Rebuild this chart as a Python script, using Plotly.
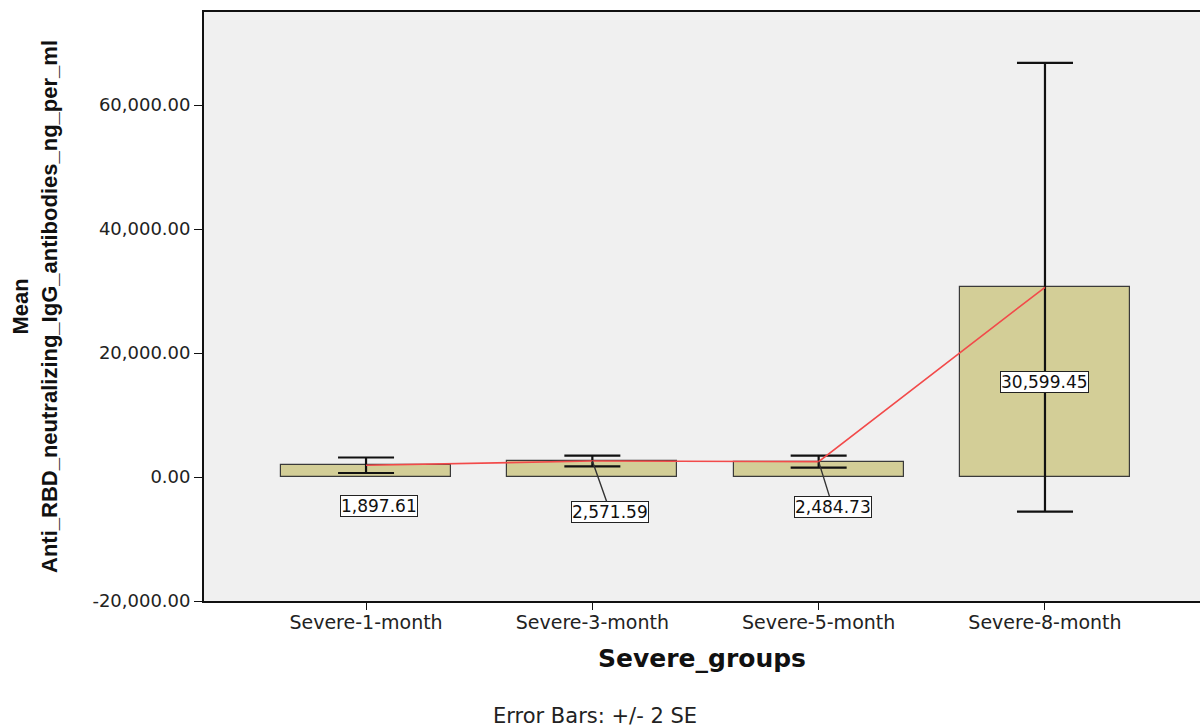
import plotly.graph_objects as go

# Group means with +/- 2 SE error bars
groups = ["Severe-1-month", "Severe-3-month", "Severe-5-month", "Severe-8-month"]
means = [1897.61, 2571.59, 2484.73, 30599.45]
err_2se = [1250, 860, 970, 36200]
mean_labels = ["1,897.61", "2,571.59", "2,484.73", "30,599.45"]

# label offsets (px) from each mean point; None = label centred inside the bar
label_offsets = [(13, 41), (18, 51), (14, 45), None]

y_ticks = [-20000, 0, 20000, 40000, 60000]
y_ticktext = [f"{v:,.2f}" for v in y_ticks]

TXT = "DejaVu Sans"
x_pos = list(range(len(groups)))

fig = go.Figure()

fig.add_trace(go.Bar(
    x=x_pos,
    y=means,
    width=0.75,
    marker=dict(color="#d3ce97", line=dict(color="#3a3a3a", width=1.2)),
    error_y=dict(type="data", array=err_2se, visible=True,
                 color="#111111", thickness=2.2, width=28),
    showlegend=False,
    hoverinfo="skip",
))

fig.add_trace(go.Scatter(
    x=x_pos,
    y=means,
    mode="lines",
    line=dict(color="#f24a4a", width=1.6),
    showlegend=False,
    hoverinfo="skip",
))

for i, (m, lab, off) in enumerate(zip(means, mean_labels, label_offsets)):
    if off is None:
        fig.add_annotation(
            x=i, y=m / 2, text=lab, showarrow=False,
            font=dict(family=TXT, size=17, color="#111111"),
            bgcolor="white", bordercolor="#222222", borderwidth=1, borderpad=0,
        )
    else:
        fig.add_annotation(
            x=i, y=m, text=lab, showarrow=True, arrowhead=0,
            arrowwidth=1.4, arrowcolor="#333333",
            axref="pixel", ayref="pixel", ax=off[0], ay=off[1],
            font=dict(family=TXT, size=17, color="#111111"),
            bgcolor="white", bordercolor="#222222", borderwidth=1, borderpad=0,
        )

# footnote below the axis title
fig.add_annotation(
    xref="paper", yref="paper", x=(595 - 204) / 996, y=(601 - 716) / 589,
    xanchor="center", yanchor="middle", showarrow=False,
    text="Error Bars: +/- 2 SE",
    font=dict(family=TXT, size=21, color="#222222"),
)

fig.update_layout(
    width=1200, height=727,
    margin=dict(l=204, r=0, t=12, b=126, autoexpand=False),
    paper_bgcolor="white",
    plot_bgcolor="#f0f0f0",
    bargap=0,
)

fig.update_xaxes(
    range=[-0.716, 3.685],
    tickmode="array", tickvals=x_pos, ticktext=groups,
    ticks="outside", ticklen=7, tickwidth=1.2, tickcolor="#111111",
    ticklabelstandoff=-4,
    tickfont=dict(family=TXT, size=19, color="#222222"),
    showline=True, linecolor="#111111", linewidth=1.8, mirror=True,
    showgrid=False, zeroline=False,
    title=dict(text="<b>Severe_groups</b>", standoff=18,
               font=dict(family=TXT, size=25, color="#111111")),
)

fig.update_yaxes(
    range=[-20000, 75000],
    tickmode="array", tickvals=y_ticks, ticktext=y_ticktext,
    ticks="outside", ticklen=8, tickwidth=1.2, tickcolor="#111111",
    tickfont=dict(family=TXT, size=18, color="#222222"),
    showline=True, linecolor="#111111", linewidth=1.8, mirror=False,
    showgrid=False, zeroline=False,
    title=dict(text="<b>Mean<br>Anti_RBD_neutralizing_IgG_antibodies_ng_per_ml</b>",
               standoff=29,
               font=dict(family="Liberation Sans", size=22, color="#111111")),
)

fig.write_html("out.html")
